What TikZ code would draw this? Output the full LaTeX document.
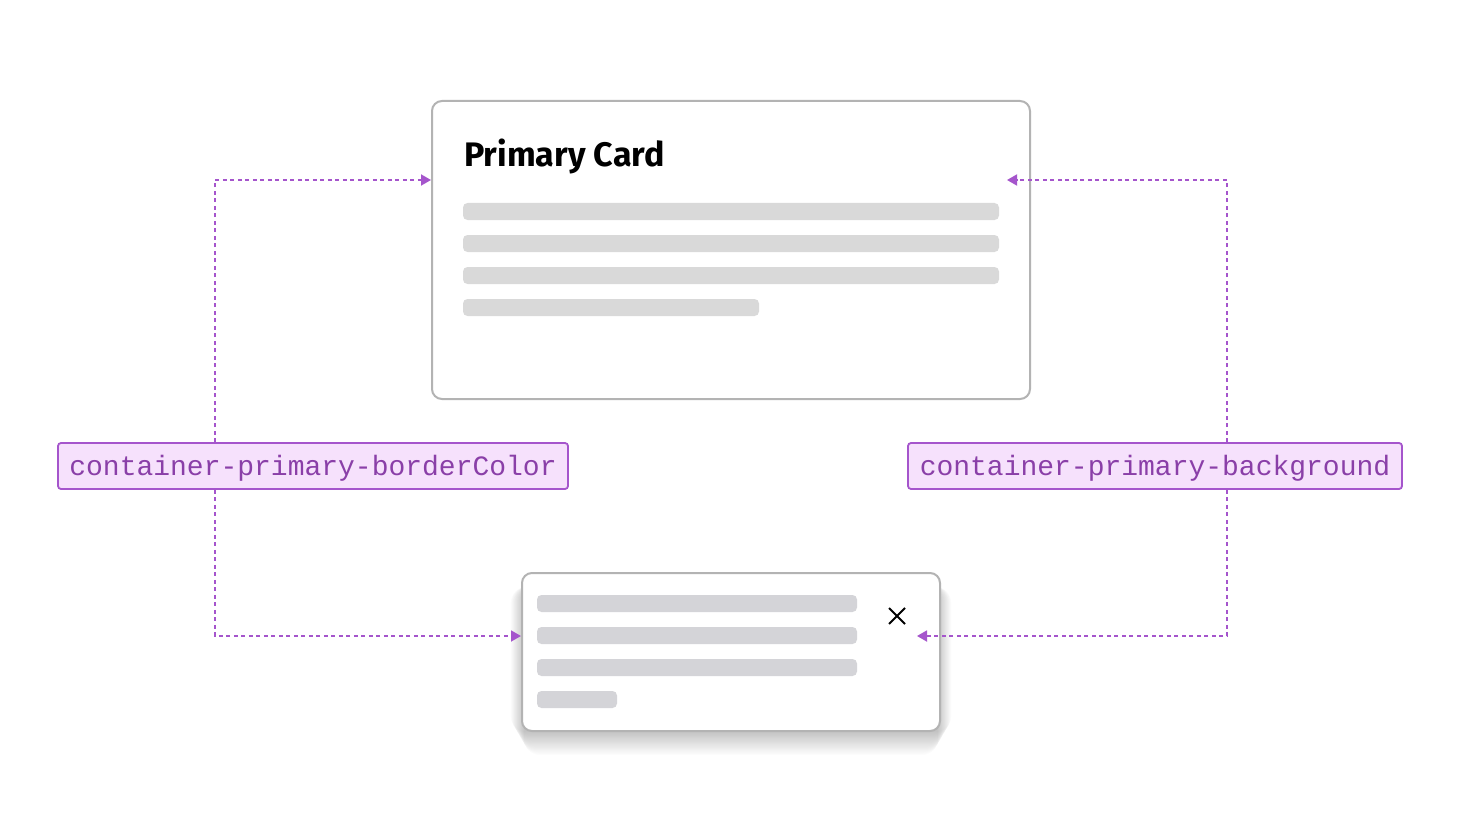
\documentclass[tikz,border=0pt]{standalone}
\usepackage{fontspec}
\setmainfont{Fira Sans}
\setmonofont{Liberation Mono}
\usetikzlibrary{arrows.meta}
\definecolor{cardborder}{HTML}{B3B3B3}
\definecolor{barA}{HTML}{D9D9D9}
\definecolor{barB}{HTML}{D4D4D8}
\definecolor{tokfill}{HTML}{F6E1FC}
\definecolor{tokborder}{HTML}{A555CC}
\definecolor{toktext}{HTML}{8A3FA8}
\definecolor{conn}{HTML}{A555CC}
\tikzset{
  card/.style={draw=cardborder, line width=2pt, fill=white, rounded corners=10pt},
  bar/.style={fill=barA, rounded corners=4.5pt},
  barb/.style={fill=barB, rounded corners=4.5pt},
  token/.style={draw=tokborder, line width=1.8pt, fill=tokfill, rounded corners=3pt,
    minimum height=46pt, inner sep=0pt},
  toklabel/.style={anchor=base, inner sep=0pt, text=toktext,
    font=\ttfamily\fontsize{28}{30}\selectfont},
  link/.style={draw=conn, line width=1.8pt, dash pattern=on 4pt off 3.5pt,
    -{Triangle[length=10pt,width=11pt]}},
}
\begin{document}
\begin{tikzpicture}[x=1pt,y=-1pt]
\useasboundingbox (0,0) rectangle (1460,832);
\fill[white] (0,0) rectangle (1460,832);
% primary card
\draw[card] (432,101) rectangle (1030,399);
\node[anchor=base west, inner sep=0pt, font=\bfseries\fontsize{34}{38}\selectfont] (title) at (464,167) {Primary Card};
\fill[bar] (463,203) rectangle (999,220);
\fill[bar] (463,235) rectangle (999,252);
\fill[bar] (463,267) rectangle (999,284);
\fill[bar] (463,299) rectangle (759,316);
\coordinate (pl) at (431,180);
\coordinate (pr) at (1007,180);
% bottom card shadow
\foreach \i in {1,...,20}{
  \fill[black, opacity=0.012, rounded corners=16pt]
    ({522+\i*0.7-12},{573+14-\i*0.2}) rectangle ({940-\i*0.7+12},{731+\i*1.2});
}
% bottom card
\draw[card] (522,573) rectangle (940,731);
\fill[barb] (537,595) rectangle (857,612);
\fill[barb] (537,627) rectangle (857,644);
\fill[barb] (537,659) rectangle (857,676);
\fill[barb] (537,691) rectangle (617,708);
\draw[line width=2pt] (889,608) -- (905,624) (905,608) -- (889,624);
\coordinate (bl) at (521,636);
\coordinate (br) at (917,636);
% tokens
\node[token, minimum width=510pt] (tl) at (313,466) {};
\node[toklabel] (tlt) at (313,475) {container-primary-borderColor};
\node[token, minimum width=494pt] (tr) at (1155,466) {};
\node[toklabel] (trt) at (1155,475) {container-primary-background};
% connectors
\draw[link] (tl.north -| 215,0) |- (pl);
\draw[link] (tl.south -| 215,0) |- (bl);
\draw[link] (tr.north -| 1227,0) |- (pr);
\draw[link] (tr.south -| 1227,0) |- (br);
\end{tikzpicture}
\end{document}
